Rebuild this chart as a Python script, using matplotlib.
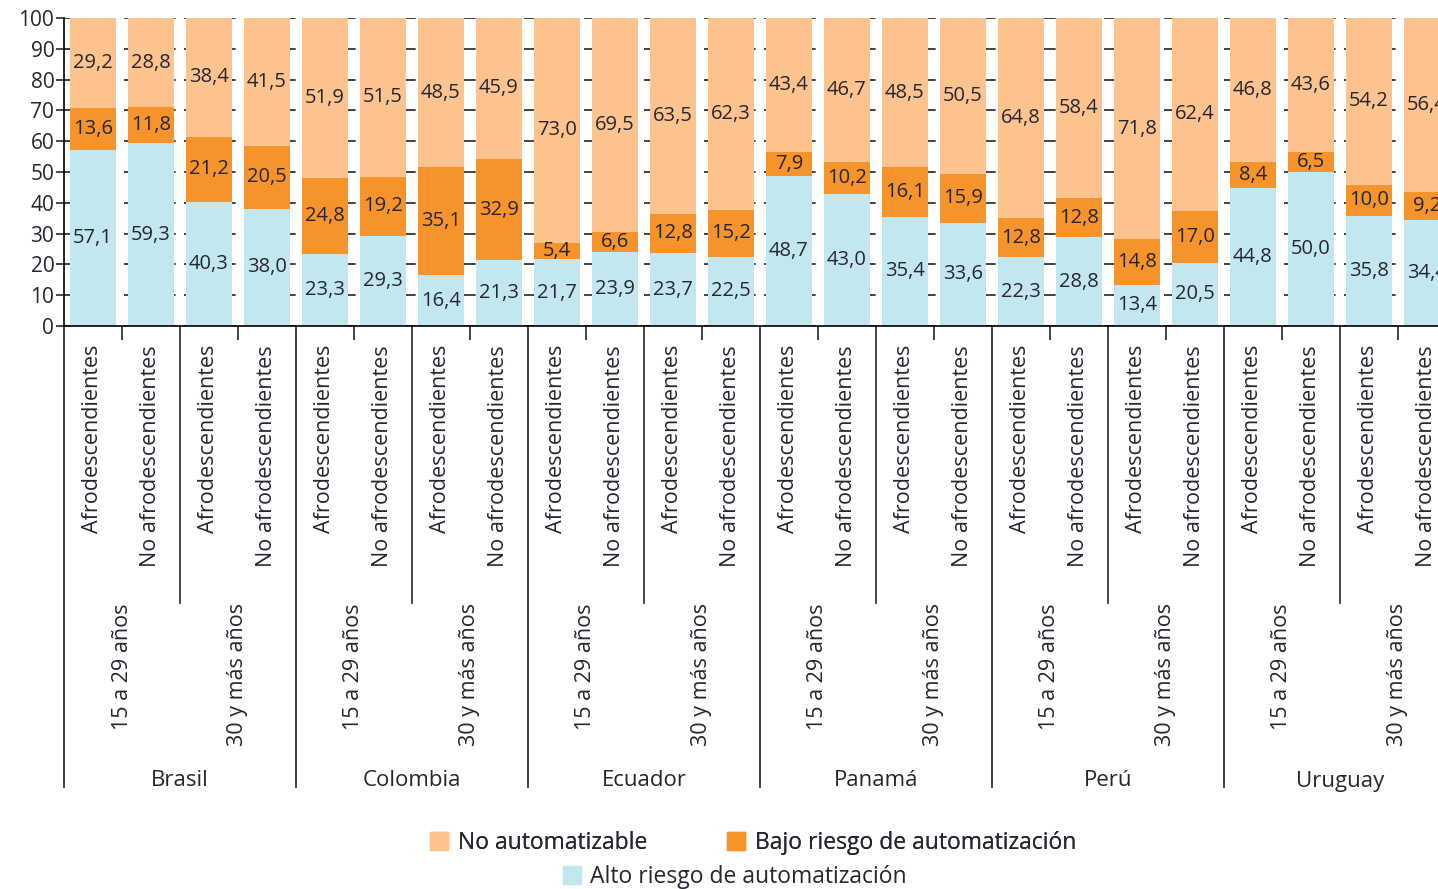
"""Stacked bars: riesgo de automatizacion por pais, edad y condicion etnico-racial."""

import matplotlib.pyplot as plt
from matplotlib.patches import Patch

plt.rcParams['font.family'] = ['Open Sans', 'DejaVu Sans']

countries = ["Brasil", "Colombia", "Ecuador", "Panamá", "Perú", "Uruguay"]
age_groups = ["15 a 29 años", "30 y más años"]
ethnic_groups = ["Afrodescendientes", "No afrodescendientes"]

alto = [57.1, 59.3, 40.3, 38.0,
        23.3, 29.3, 16.4, 21.3,
        21.7, 23.9, 23.7, 22.5,
        48.7, 43.0, 35.4, 33.6,
        22.3, 28.8, 13.4, 20.5,
        44.8, 50.0, 35.8, 34.4]
bajo = [13.6, 11.8, 21.2, 20.5,
        24.8, 19.2, 35.1, 32.9,
        5.4, 6.6, 12.8, 15.2,
        7.9, 10.2, 16.1, 15.9,
        12.8, 12.8, 14.8, 17.0,
        8.4, 6.5, 10.0, 9.2]
no_auto = [29.2, 28.8, 38.4, 41.5,
           51.9, 51.5, 48.5, 45.9,
           73.0, 69.5, 63.5, 62.3,
           43.4, 46.7, 48.5, 50.5,
           64.8, 58.4, 71.8, 62.4,
           46.8, 43.6, 54.2, 56.4]

C_NO = "#fdc38f"
C_BAJO = "#f7932b"
C_ALTO = "#c3e7ef"
TXT = "#262630"


def fmt(v):
    return f"{v:.1f}".replace(".", ",")


def main():
    fig = plt.figure(figsize=(14.38, 8.89), dpi=100)
    # axes deliberately runs past the right edge, like the cropped original
    ax = fig.add_axes([64 / 1438, (889 - 326) / 889, 1392 / 1438, 308 / 889])

    n = len(alto)
    x = list(range(n))
    width = 0.78
    bottom2 = [a + b for a, b in zip(alto, bajo)]

    ax.bar(x, alto, width, color=C_ALTO, zorder=2)
    ax.bar(x, bajo, width, bottom=alto, color=C_BAJO, zorder=2)
    ax.bar(x, no_auto, width, bottom=bottom2, color=C_NO, zorder=2)

    for i in x:
        ax.text(i, alto[i] / 2, fmt(alto[i]), ha="center", va="center",
                fontsize=14.5, color=TXT, zorder=3)
        ax.text(i, alto[i] + bajo[i] / 2, fmt(bajo[i]), ha="center", va="center",
                fontsize=14.5, color=TXT, zorder=3)
        ax.text(i, bottom2[i] + no_auto[i] / 2, fmt(no_auto[i]), ha="center", va="center",
                fontsize=14.5, color=TXT, zorder=3)

    ax.set_xlim(-0.5, n - 0.5)
    ax.set_ylim(0, 100)
    ax.set_yticks(range(0, 101, 10))
    ax.tick_params(axis="y", labelsize=15, colors=TXT, length=6, width=1.2, pad=1)
    ax.yaxis.grid(True, linestyle=(0, (7, 5)), color="#222222", linewidth=1.2, zorder=0)
    ax.set_axisbelow(True)

    ax.set_xticks([])
    ax.set_xticks([i + 0.5 for i in range(0, n, 2)], minor=True)
    ax.tick_params(axis="x", which="minor", length=10, width=1.2, color="#222222")
    ax.tick_params(axis="x", which="major", length=0)
    ax.set_xticklabels([], minor=True)

    for side in ["top", "right"]:
        ax.spines[side].set_visible(False)
    ax.spines["left"].set_linewidth(1.2)
    ax.spines["bottom"].set_linewidth(1.2)

    tr = ax.get_xaxis_transform()
    age_bottom = (326 - 603) / 308
    country_bottom = (326 - 787) / 308

    for i in x:
        ax.text(i, (326 - 345) / 308, ethnic_groups[i % 2], rotation=90,
                ha="center", va="top", fontsize=15.5, color=TXT, transform=tr)

    for k in range(n // 2):
        ax.text(2 * k + 0.5, age_bottom, age_groups[k % 2], rotation=90,
                ha="center", va="top", fontsize=15.5, color=TXT, transform=tr)
        if k % 2 == 1:
            ax.plot([2 * k - 0.5, 2 * k - 0.5], [0, age_bottom], color="#222222",
                    linewidth=1.2, transform=tr, clip_on=False)

    for c, name in enumerate(countries):
        xs = 4 * c - 0.5
        ax.plot([xs, xs], [0, country_bottom], color="#222222",
                linewidth=1.2, transform=tr, clip_on=False)
        ax.text(4 * c + 1.5, (326 - 781) / 308, name, ha="center", va="center",
                fontsize=16, color=TXT, transform=tr)

    leg1 = fig.legend(handles=[Patch(color=C_NO, label="No automatizable"),
                               Patch(color=C_BAJO, label="Bajo riesgo de automatización")],
                      loc="center", bbox_to_anchor=(753 / 1438, 1 - 843 / 889), ncol=2,
                      frameon=False, fontsize=16.5, handlelength=0.8, handleheight=0.8,
                      columnspacing=3.5, handletextpad=0.4, labelcolor=TXT)
    fig.add_artist(leg1)
    fig.legend(handles=[Patch(color=C_ALTO, label="Alto riesgo de automatización")],
               loc="center", bbox_to_anchor=(735 / 1438, 1 - 877 / 889),
               frameon=False, fontsize=16.5, handlelength=0.8, handleheight=0.8,
               handletextpad=0.4, labelcolor=TXT)

    fig.savefig("out.png", dpi=100)


if __name__ == "__main__":
    main()
